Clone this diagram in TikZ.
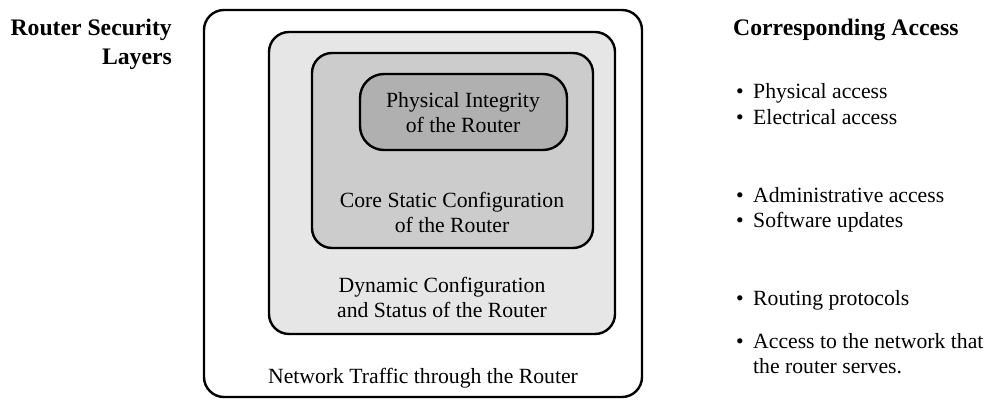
\documentclass[tikz,border=0pt]{standalone}
\usepackage{fontspec}
\setmainfont{Liberation Serif}
\definecolor{layerA}{HTML}{E6E6E6}
\definecolor{layerB}{HTML}{CCCCCC}
\definecolor{layerC}{HTML}{B0B0B0}
\begin{document}
\begin{tikzpicture}[x=1pt,y=-1pt,
  layer/.style={draw=black,line width=2.4pt,rounded corners=20pt},
  txt/.style={inner sep=0pt,anchor=base,font=\fontsize{21.7}{25}\selectfont},
  txtl/.style={inner sep=0pt,anchor=base west,font=\fontsize{21.7}{25}\selectfont},
  head/.style={inner sep=0pt,font=\fontsize{23.7}{29}\selectfont\bfseries},
  bul/.style={inner sep=0pt,anchor=base,font=\fontsize{21.7}{25}\selectfont}]
\useasboundingbox (0,0) rectangle (985,399);
% layers
\draw[layer,fill=white] (204,10) rectangle (642,397);
\draw[layer,fill=layerA] (269,32) rectangle (615,334);
\draw[layer,fill=layerB] (312,53) rectangle (593,248);
\draw[layer,fill=layerC,rounded corners=24pt] (360,74) rectangle (567,150);
% layer texts
\node[txt] (p1) at (463,107) {Physical Integrity};
\node[txt] (p2) at (463,132) {of the Router};
\node[txt] (c1) at (452,207) {Core Static Configuration};
\node[txt] (c2) at (452,232) {of the Router};
\node[txt] (d1) at (442,292) {Dynamic Configuration};
\node[txt] (d2) at (442,317) {and Status of the Router};
\node[txt] (n1) at (423,383) {Network Traffic through the Router};
% headings
\node[head,anchor=base east] (h1) at (172,35) {Router Security};
\node[head,anchor=base east] (h2) at (172,64) {Layers};
\node[head,anchor=base west] (h3) at (733,35) {Corresponding Access};
% list
\node[bul] (b1) at (740,98) {•};
\node[txtl] (l1) at (753,98) {Physical access};
\node[bul] (b2) at (740,124) {•};
\node[txtl] (l2) at (753,124) {Electrical access};
\node[bul] (b3) at (740,202) {•};
\node[txtl] (l3) at (753,202) {Administrative access};
\node[bul] (b4) at (740,227) {•};
\node[txtl] (l4) at (753,227) {Software updates};
\node[bul] (b5) at (740,305) {•};
\node[txtl] (l5) at (753,305) {Routing protocols};
\node[bul] (b6) at (740,348) {•};
\node[txtl] (l6) at (753,348) {Access to the network that};
\node[txtl] (l7) at (753,373) {the router serves.};
\end{tikzpicture}
\end{document}
